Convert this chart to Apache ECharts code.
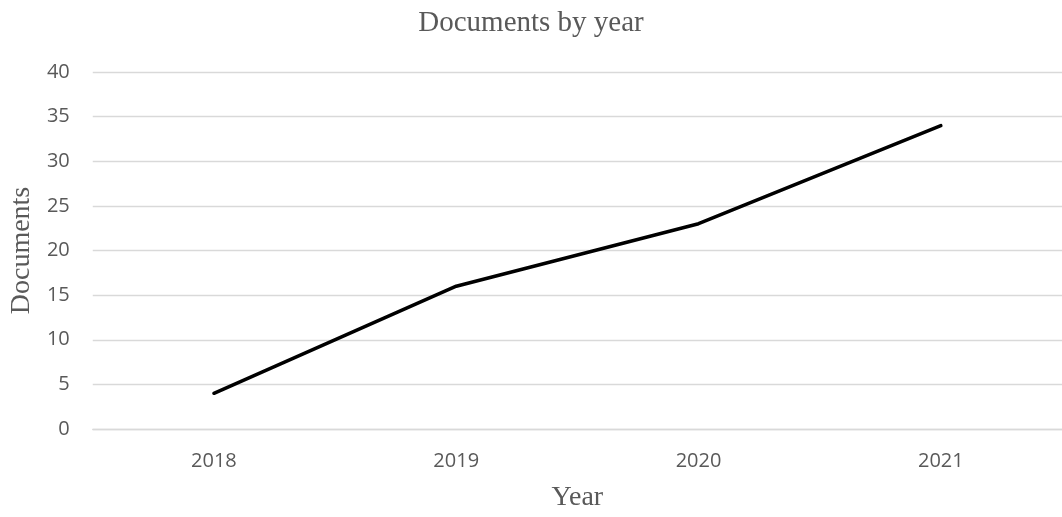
<!DOCTYPE html>
<html>
<head>
<meta charset="utf-8">
<script src="https://cdn.jsdelivr.net/npm/echarts@6/dist/echarts.min.js"></script>
<style>html,body{margin:0;padding:0;background:#fff}#c{width:1062px;height:517px}</style>
</head>
<body>
<div id="c"></div>
<script>
const categories = ['2018', '2019', '2020', '2021'];
const documents = [4, 16, 23, 34];
const yTicks = { min: 0, max: 40, interval: 5 };

const chart = echarts.init(document.getElementById('c'), null, { renderer: 'canvas' });
chart.setOption({
  animation: false,
  backgroundColor: '#ffffff',
  title: {
    text: 'Documents by year',
    left: 'center',
    top: 9,
    padding: 0,
    textStyle: { fontFamily: 'Liberation Serif', fontSize: 29, fontWeight: 'normal', color: '#595959' }
  },
  grid: { left: 92, right: -8, top: 72, bottom: 82, containLabel: false },
  xAxis: {
    type: 'category',
    data: categories,
    boundaryGap: true,
    name: 'Year',
    nameLocation: 'middle',
    nameGap: 55,
    nameTextStyle: { fontFamily: 'Liberation Serif', fontSize: 28, color: '#595959' },
    axisLine: { show: true, lineStyle: { color: '#d9d9d9', width: 1.3 } },
    axisTick: { show: false },
    axisLabel: { fontFamily: 'Open Sans', fontSize: 20, color: '#595959', margin: 22 },
    splitLine: { show: false }
  },
  yAxis: {
    type: 'value',
    min: yTicks.min,
    max: yTicks.max,
    interval: yTicks.interval,
    name: 'Documents',
    nameLocation: 'middle',
    nameGap: 53,
    nameRotate: 90,
    nameTextStyle: { fontFamily: 'Liberation Serif', fontSize: 28, color: '#595959' },
    axisLine: { show: false },
    axisTick: { show: false },
    axisLabel: { fontFamily: 'Open Sans', fontSize: 20, color: '#595959', margin: 23 },
    splitLine: { lineStyle: { color: '#d9d9d9', width: 1.3 } }
  },
  series: [{
    type: 'line',
    data: documents,
    showSymbol: false,
    symbol: 'none',
    lineStyle: { color: '#000000', width: 3.5, cap: 'round', join: 'round' },
    itemStyle: { color: '#000000' }
  }]
});
</script>
</body>
</html>
